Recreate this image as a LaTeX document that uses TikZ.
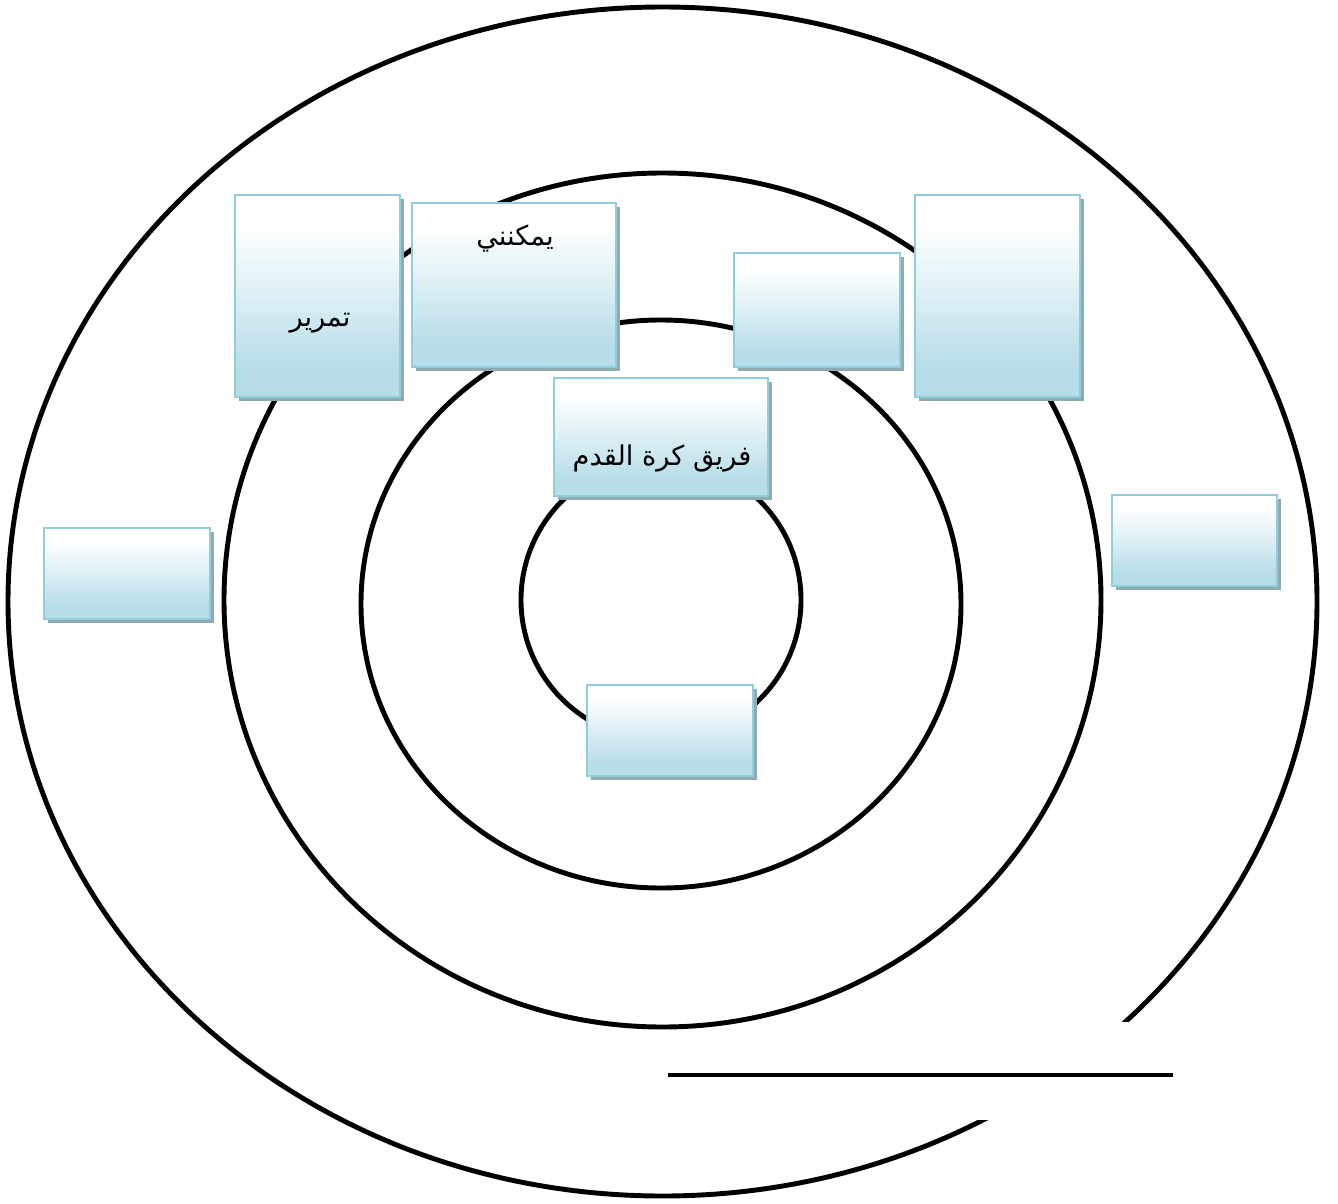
\documentclass[tikz,border=0pt]{standalone}
\usepackage{fontspec}
\usetikzlibrary{fit,shadows}
\TeXXeTstate=1
\newfontfamily\arabicfont[Script=Arabic]{DejaVu Sans}
\definecolor{boxblue}{HTML}{B7DDE8}
\definecolor{boxmid}{HTML}{DCEFF4}
\definecolor{boxedge}{HTML}{92CDDC}
\definecolor{shadowc}{HTML}{8FAAB2}
\pgfdeclareverticalshading{boxshade}{100bp}{color(0bp)=(boxblue); color(25bp)=(boxblue); color(32bp)=(boxblue); color(50bp)=(boxmid); color(68bp)=(white); color(75bp)=(white); color(100bp)=(white)}
\tikzset{
  ring/.style={draw=black, line width=2.8pt},
  box/.style={rectangle, inner sep=0pt, draw=boxedge, line width=1.6pt, shading=boxshade,
    drop shadow={shadow xshift=0.07cm, shadow yshift=-0.07cm, fill=shadowc, opacity=1}},
  lbl/.style={font=\arabicfont\fontsize{15.5pt}{18pt}\selectfont, inner sep=0pt}
}
\begin{document}
\begin{tikzpicture}[x=0.02cm, y=-0.02cm]
\useasboundingbox (0,0) rectangle (1338,1203);
% rings
\draw[ring] (662.5,601.5) ellipse [x radius=654.5, y radius=594.5];
\draw[ring] (662.5,600) ellipse [x radius=438.5, y radius=427];
\draw[ring] (661,604) ellipse [x radius=300, y radius=284];
\draw[ring] (661,600) circle [radius=140];
% gap in outer ring
\fill[white] (960,1022) rectangle (1200,1120);
\coordinate (la) at (668,1075);
\coordinate (lb) at (1173,1075);
\draw[line width=2.6pt] (la) -- (lb);
% boxes
\node[box, fit={(235,195) (400,397)}] (b1) {};
\node[box, fit={(412,203) (616,367)}] (b2) {};
\node[box, fit={(734,253) (900,367)}] (b3) {};
\node[box, fit={(915,195) (1080,397)}] (b4) {};
\node[box, fit={(554,378) (768,496)}] (b5) {};
\node[box, fit={(1112,495) (1277,586)}] (b6) {};
\node[box, fit={(44,528) (210,619)}] (b7) {};
\node[box, fit={(587,685) (753,776)}] (b8) {};
% labels
\node[lbl] (t1) at (320,323) {\beginR تمرير\endR};
\node[lbl] (t2) at (515,238) {\beginR يمكنني\endR};
\node[lbl] (t5) at (662,458) {\beginR فريق كرة القدم\endR};
\end{tikzpicture}
\end{document}
